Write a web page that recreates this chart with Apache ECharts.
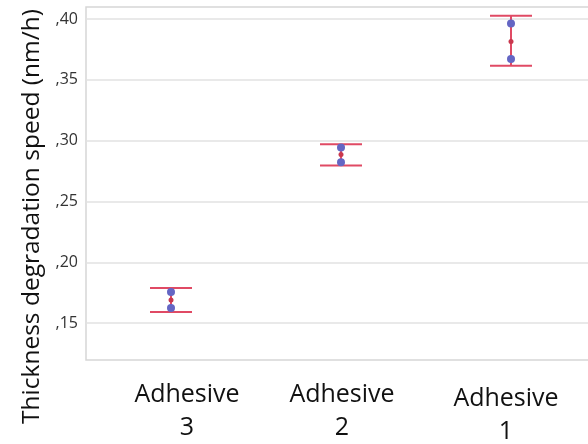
<!DOCTYPE html>
<html>
<head>
<meta charset="utf-8">
<script src="https://cdn.jsdelivr.net/npm/echarts@6/dist/echarts.min.js"></script>
<style>
  html, body { margin: 0; padding: 0; background: #fff; }
  #chart { width: 588px; height: 444px; }
</style>
</head>
<body>
<div id="chart"></div>
<script>
// Categories along the x axis
const categories = ['Adhesive\n3', 'Adhesive\n2', 'Adhesive\n1'];
// Mean degradation speed per adhesive (nm/h)
const means = [0.169, 0.2887, 0.3817];
// Error bar bounds
const lower = [0.159, 0.2797, 0.3616];
const upper = [0.1788, 0.297, 0.4027];
// Individual measurements
const sampleHigh = [0.1755, 0.2945, 0.3965];
const sampleLow = [0.1623, 0.2822, 0.3672];
// Y tick values
const yTicks = [0.15, 0.20, 0.25, 0.30, 0.35, 0.40];

const red = '#e04a64';
const blue = '#6466c4';
const font = '"Open Sans", "DejaVu Sans", sans-serif';

// Small nudges for each category label
const labelPads = [[0, 0, 0, 32], [0, 0, 0, 2], [4, 10, 0, 0]];

const chart = echarts.init(document.getElementById('chart'));
chart.setOption({
  animation: false,
  backgroundColor: '#fff',
  grid: {
    left: 86, right: -8, top: 7, bottom: 84,
    outerBoundsMode: 'none',
    containLabel: false,
    show: true, borderColor: '#d6d6d6', borderWidth: 1.5
  },
  xAxis: {
    type: 'category',
    data: categories.map((c, i) => ({ value: c, textStyle: { padding: labelPads[i] } })),
    axisLine: { show: false },
    axisTick: { show: false },
    axisLabel: {
      margin: 18, fontSize: 25, lineHeight: 33, color: '#111',
      fontFamily: font, interval: 0
    },
    splitLine: { show: false }
  },
  yAxis: {
    type: 'value',
    min: 0.1196, max: 0.41,
    name: 'Thickness degradation speed (nm/h)',
    nameLocation: 'middle',
    nameRotate: 90,
    nameGap: 41,
    nameTextStyle: { fontSize: 24.5, color: '#111', fontFamily: font, padding: [0, 66, 0, 0] },
    axisLine: { show: false },
    axisTick: { show: false, customValues: yTicks },
    axisLabel: {
      customValues: yTicks,
      margin: 8, fontSize: 16, color: '#333', fontFamily: font,
      formatter: v => ',' + Math.round(v * 100).toString().padStart(2, '0')
    },
    splitLine: { show: true, lineStyle: { color: '#e2e2e2', width: 1.5 } }
  },
  series: [
    {
      type: 'custom',
      name: 'range',
      data: categories.map((c, i) => [i, lower[i], upper[i]]),
      renderItem: (params, api) => {
        const x = api.value(0);
        const lo = api.coord([x, api.value(1)]);
        const hi = api.coord([x, api.value(2)]);
        const half = 21;
        const style = { stroke: red, lineWidth: 2 };
        return {
          type: 'group',
          children: [
            { type: 'line', shape: { x1: lo[0], y1: lo[1], x2: hi[0], y2: hi[1] }, style },
            { type: 'line', shape: { x1: hi[0] - half, y1: hi[1], x2: hi[0] + half, y2: hi[1] }, style },
            { type: 'line', shape: { x1: lo[0] - half, y1: lo[1], x2: lo[0] + half, y2: lo[1] }, style }
          ]
        };
      },
      z: 2
    },
    {
      type: 'scatter',
      name: 'samples',
      data: categories.map((c, i) => [i, sampleHigh[i]]).concat(categories.map((c, i) => [i, sampleLow[i]])),
      symbolSize: 8,
      itemStyle: { color: blue, opacity: 1 },
      z: 3
    },
    {
      type: 'scatter',
      name: 'mean',
      data: categories.map((c, i) => [i, means[i]]),
      symbolSize: 5,
      itemStyle: { color: '#c9384e', opacity: 1 },
      z: 4
    }
  ]
});
</script>
</body>
</html>
